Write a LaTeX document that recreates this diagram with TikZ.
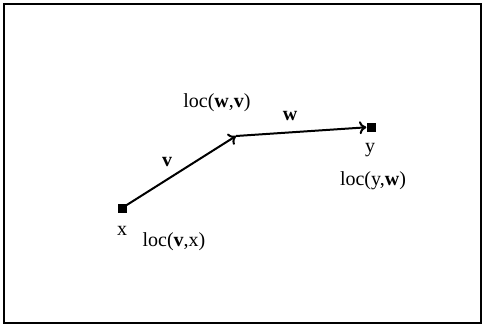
\documentclass[tikz,border=0pt]{standalone}
\usepackage{fontspec}
\setmainfont{Liberation Serif}
\usetikzlibrary{arrows.meta}
\tikzset{
  pt/.style={fill=black,minimum size=9pt,inner sep=0pt},
  lbl/.style={font=\fontsize{20}{22}\selectfont,inner sep=0pt},
  vec/.style={line width=2pt,-{To[length=7pt,width=13pt,line width=2pt]}}
}
\begin{document}
\begin{tikzpicture}[x=1pt,y=-1pt]
        \useasboundingbox (0,0) rectangle (483,325);
        \draw[line width=2.2pt] (4,4) rectangle (481,323);
        \node[pt] (x) at (122,208) {};
        \node[pt] (y) at (371,127) {};
        \coordinate (b) at (236,136);
        \draw[vec] (x) -- (b);
        \draw[vec] (b) -- (y);
        \node[lbl] (xl) at (122,231) {x};
        \node[lbl] (locvx) at (174,242) {loc(\textbf{v},x)};
        \node[lbl] (vl) at (167,162) {\textbf{v}};
        \node[lbl] (locwv) at (217,103) {loc(\textbf{w},\textbf{v})};
        \node[lbl] (wl) at (290,116) {\textbf{w}};
        \node[lbl] (yl) at (370,150) {y};
        \node[lbl] (locyw) at (373,181) {loc(y,\textbf{w})};
    \end{tikzpicture}
\end{document}
